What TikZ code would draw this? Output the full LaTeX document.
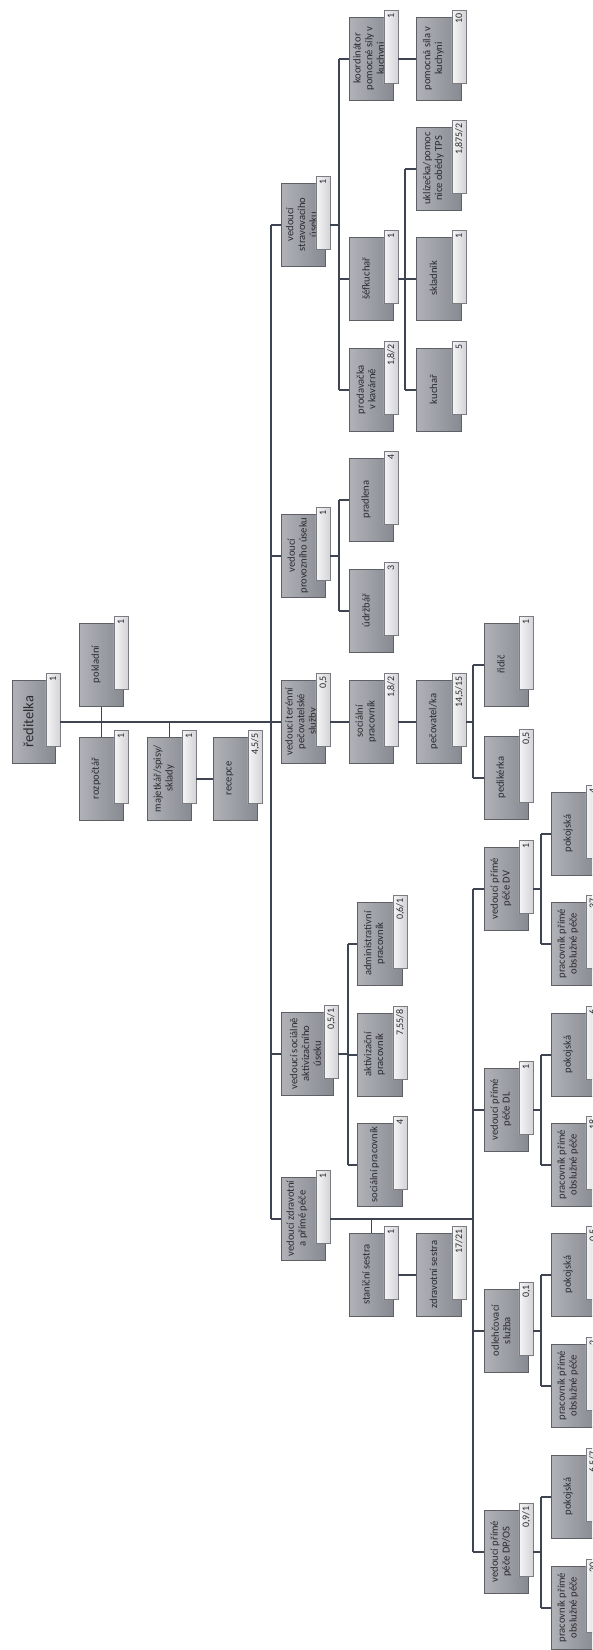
\documentclass[tikz,border=0pt]{standalone}
\usepackage{fontspec}
\setmainfont{Carlito}
\usetikzlibrary{calc}
\definecolor{boxA}{HTML}{B0B2B8}
\definecolor{boxB}{HTML}{888A91}
\definecolor{boxE}{HTML}{5E6066}
\definecolor{numA}{HTML}{F6F6F7}
\definecolor{numB}{HTML}{D4D4D8}
\definecolor{numE}{HTML}{7A7C82}
\definecolor{lineC}{HTML}{3F4453}
\definecolor{txtC}{HTML}{2B2C30}
\tikzset{
  darkbox/.style={draw=boxE, line width=0.6pt, left color=boxA, right color=boxB, inner sep=0pt, anchor=north west, minimum height=83pt},
  numbox/.style={draw=numE, line width=0.6pt, left color=numA, right color=numB, minimum width=14pt, minimum height=73pt, inner sep=0pt, anchor=north west},
  ttext/.style={rotate=90, align=center, font=\fontsize{10.6}{11.7}\selectfont, text=txtC, inner sep=0pt},
  ntext/.style={rotate=90, anchor=mid east, font=\fontsize{10}{11}\selectfont, text=txtC, inner sep=0pt},
  conn/.style={draw=lineC, line width=1.5pt},
}
% [font opts]{name}{x,y}{width}{text}{number}{text x offset}
\newcommand{\orgbox}[7][]{%
  \node[darkbox, minimum width=#4pt] (#2) at (#3) {};
  \node[ttext,#1] at ($(#2.north west)+({(#4-10)/2+#7},41.5)$) {#5};
  \node[numbox] (#2n) at ($(#2.north east)+(-10,-7)$) {};
  \node[ntext] at ($(#2n.north)+(0.8,3)$) {#6};
}
\begin{document}
\begin{tikzpicture}[x=1pt,y=-1pt]
\clip (0,0) rectangle (592,1650);
\fill[white] (0,0) rectangle (592,1650);
\coordinate (tr) at (271,0);
\coordinate (b1) at (339,0);
\coordinate (b2) at (405,0);
\coordinate (b3) at (473,0);
\coordinate (b4) at (348,0);
\coordinate (b5) at (541,0);

\orgbox[font=\fontsize{14.5}{16}\selectfont]{root}{12,680}{43}{ředitelka}{1}{0}
\orgbox{pokl}{79,623}{44}{pokladní}{1}{0}
\orgbox{rozp}{79,737}{44}{rozpočtář}{1}{0}
\orgbox{majet}{147,737}{44}{majetkář/spisy/\\sklady}{1}{0}
\orgbox{recep}{213,737}{44}{recepce}{4,5/5}{0}
\orgbox{strav}{281,183}{44}{vedoucí\\stravovacího\\úseku}{1}{3.5}
\orgbox{provoz}{281,514}{44}{vedoucí\\provozního úseku}{1}{0}
\orgbox{teren}{281,680}{44}{vedoucí terénní\\pečovatelské\\služby}{0,5}{3.5}
\orgbox{socakt}{281,1012}{52}{vedoucí sociálně\\aktivizačního\\úseku}{0,5/1}{3.5}
\orgbox{zdrav}{281,1177}{44}{vedoucí zdravotní\\a přímé péče}{1}{-1}
\orgbox{koord}{349,17}{44}{koordinátor\\pomocné síly v\\kuchyni}{1}{3.5}
\orgbox{pomoc}{416,17}{45}{pomocná síla v\\kuchyni}{10}{0}
\orgbox{sef}{349,237}{44}{šéfkuchař}{1}{0}
\orgbox{ukliz}{416,127}{45}{uklízečka/pomoc\\nice obědy TPS}{1,875/2}{0}
\orgbox{sklad}{416,237}{45}{skladník}{1}{0}
\orgbox{prodav}{349,348}{44}{prodavačka\\v kavárně}{1,8/2}{0}
\orgbox{kuchar}{416,348}{45}{kuchař}{5}{0}
\orgbox{pradl}{349,458}{44}{pradlena}{4}{0}
\orgbox{udrz}{349,569}{44}{údržbář}{3}{0}
\orgbox{socprac}{349,680}{44}{sociální\\pracovník}{1,8/2}{0}
\orgbox{pecov}{416,680}{45}{pečovatel/ka}{14,5/15}{0}
\orgbox{ridic}{484,623}{44}{řidič}{1}{0}
\orgbox{pedik}{484,736}{44}{pedikérka}{0,5}{0}
\orgbox{admin}{357,902}{45}{administrativní\\pracovník}{0,6/1}{0}
\orgbox{aktiv}{357,1013}{45}{aktivizační\\pracovník}{7,55/8}{0}
\orgbox{socprb}{357,1123}{45}{sociální pracovník}{4}{0}
\orgbox{stan}{349,1233}{44}{staniční sestra}{1}{0}
\orgbox{zdrses}{416,1233}{45}{zdravotní sestra}{17/21}{0}
\orgbox{vDV}{484,847}{44}{vedoucí přímé\\péče DV}{1}{0}
\orgbox{vDL}{484,1068}{44}{vedoucí přímé\\péče DL}{1}{0}
\orgbox{odl}{484,1289}{44}{odlehčovací\\služba}{0,1}{0}
\orgbox{vDP}{484,1510}{44}{vedoucí přímé\\péče DP/OS}{0,9/1}{0}
\orgbox{pokDV}{551,792}{44}{pokojská}{4}{0}
\orgbox{ppDV}{551,902}{44}{pracovník přímé\\obslužné péče}{37}{0}
\orgbox{pokDL}{551,1013}{44}{pokojská}{6}{0}
\orgbox{ppDL}{551,1123}{44}{pracovník přímé\\obslužné péče}{18}{0}
\orgbox{pokO}{551,1233}{44}{pokojská}{0,5}{0}
\orgbox{ppO}{551,1344}{44}{pracovník přímé\\obslužné péče}{2}{0}
\orgbox{pokDP}{551,1455}{44}{pokojská}{6,5/7}{0}
\orgbox{ppDP}{551,1566}{44}{pracovník přímé\\obslužné péče}{20}{0}

\begin{scope}[conn]
\draw (rootn.east |- root.east) -- (teren.west);
\draw (pokl.south) -- (rozp.north);
\draw (majet.north |- root.east) -- (majet.north);
\draw (majetn.east |- majet.east) -- (recep.west);
\draw (tr |- strav.west) -- (tr |- zdrav.west);
\draw (tr |- strav.west) -- (strav.west);
\draw (tr |- provoz.west) -- (provoz.west);
\draw (tr |- socakt.west) -- (socakt.west);
\draw (tr |- zdrav.west) -- (zdrav.west);
\draw (stravn.east |- strav.east) -- (b1 |- strav.east);
\draw (b1 |- koord.west) -- (b1 |- prodav.west);
\draw (b1 |- koord.west) -- (koord.west);
\draw (b1 |- sef.west) -- (sef.west);
\draw (b1 |- prodav.west) -- (prodav.west);
\draw (koordn.east |- koord.east) -- (pomoc.west);
\draw (sefn.east |- sef.east) -- (sklad.west);
\draw (b2 |- ukliz.west) -- (b2 |- kuchar.west);
\draw (b2 |- ukliz.west) -- (ukliz.west);
\draw (b2 |- kuchar.west) -- (kuchar.west);
\draw (provozn.east |- provoz.east) -- (b1 |- provoz.east);
\draw (b1 |- pradl.west) -- (b1 |- udrz.west);
\draw (b1 |- pradl.west) -- (pradl.west);
\draw (b1 |- udrz.west) -- (udrz.west);
\draw (terenn.east |- teren.east) -- (socprac.west);
\draw (socpracn.east |- socprac.east) -- (pecov.west);
\draw (pecovn.east |- pecov.east) -- (b3 |- pecov.east);
\draw (b3 |- ridic.west) -- (b3 |- pedik.west);
\draw (b3 |- ridic.west) -- (ridic.west);
\draw (b3 |- pedik.west) -- (pedik.west);
\draw (socaktn.east |- socakt.east) -- (b4 |- socakt.east);
\draw (b4 |- admin.west) -- (b4 |- socprb.west);
\draw (b4 |- admin.west) -- (admin.west);
\draw (b4 |- aktiv.west) -- (aktiv.west);
\draw (b4 |- socprb.west) -- (socprb.west);
\draw (zdravn.east |- zdrav.east) -- (b3 |- zdrav.east);
\draw (stan.north |- zdrav.east) -- (stan.north);
\draw (stann.east |- stan.east) -- (zdrses.west);
\draw (b3 |- vDV.west) -- (b3 |- vDP.west);
\draw (b3 |- vDV.west) -- (vDV.west);
\draw (b3 |- vDL.west) -- (vDL.west);
\draw (b3 |- odl.west) -- (odl.west);
\draw (b3 |- vDP.west) -- (vDP.west);
\foreach \p/\a/\b in {vDV/pokDV/ppDV, vDL/pokDL/ppDL, odl/pokO/ppO, vDP/pokDP/ppDP}{
  \draw (\p n.east |- \p.east) -- (b5 |- \p.east);
  \draw (b5 |- \a.west) -- (b5 |- \b.west);
  \draw (b5 |- \a.west) -- (\a.west);
  \draw (b5 |- \b.west) -- (\b.west);
}
\end{scope}
\end{tikzpicture}
\end{document}
